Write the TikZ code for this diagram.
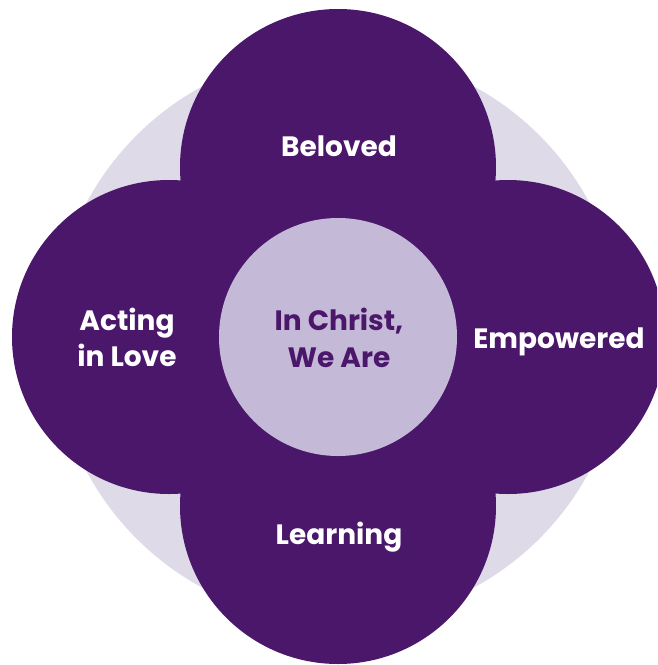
\documentclass[tikz,border=0pt]{standalone}
\usepackage{fontspec}
\setmainfont{Poppins}
\definecolor{deep}{HTML}{4A176B}
\definecolor{pale}{HTML}{DFDAE8}
\definecolor{mid}{HTML}{C4B9D6}
\begin{document}
\begin{tikzpicture}[x=1pt,y=-1pt,
  petal/.style={fill=deep},
  lbl/.style={anchor=base,inner sep=0pt,text=white,font=\fontsize{28}{32}\selectfont\bfseries},
  clbl/.style={lbl,text=deep}]
\useasboundingbox (0,0) rectangle (657,665);
\clip (0,0) rectangle (657,665);
\fill[pale] (338,337) circle (285);
\fill[petal] (338,167) circle (158);
\fill[petal] (169,337) circle (157);
\fill[petal] (508,337) circle (157);
\fill[petal] (338,506) circle (158);
\fill[mid] (338,337) circle (119);
\node[lbl] (beloved) at (339,156) {Beloved};
\node[lbl] (empowered) at (559,348) {Empowered};
\node[lbl] (learning) at (339,544) {Learning};
\node[lbl] (acting1) at (127,330) {Acting};
\node[lbl] (acting2) at (127,366) {in Love};
\node[clbl] (center1) at (339,330) {In Christ,};
\node[clbl] (center2) at (339,367) {We Are};
\end{tikzpicture}
\end{document}
